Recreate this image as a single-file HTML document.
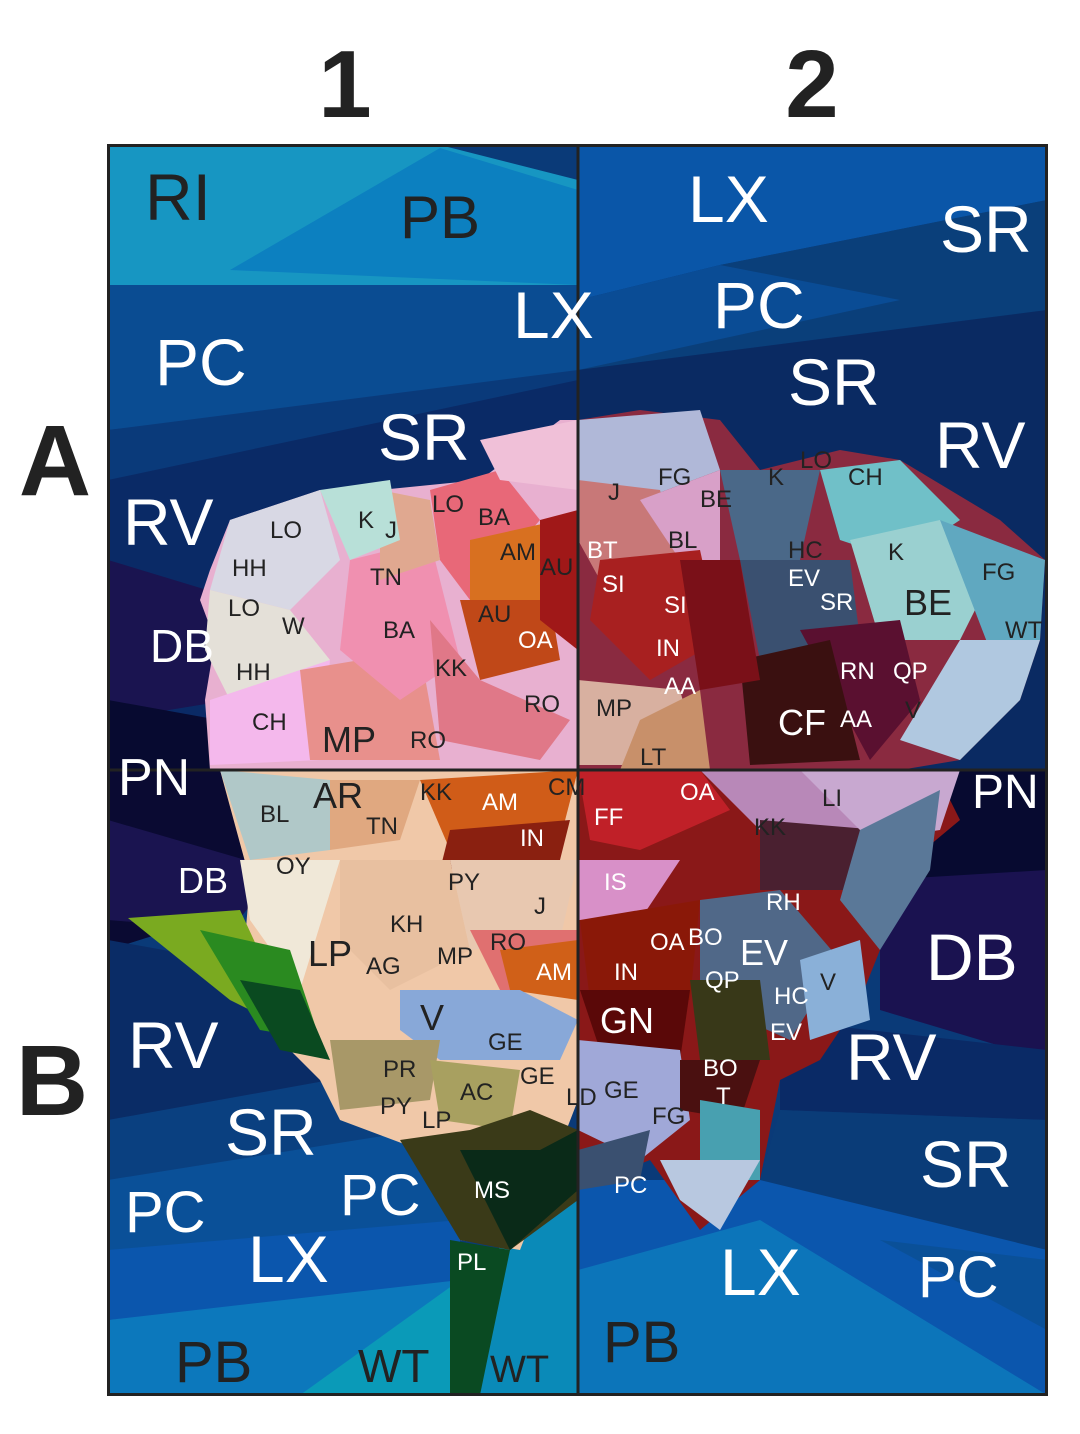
<!DOCTYPE html>
<html><head><meta charset="utf-8"><style>
html,body{margin:0;padding:0;background:#fff}
svg{display:block}
text{font-family:"Liberation Sans",sans-serif}
.b{fill:#fff}.d{fill:#222}
</style></head><body>
<svg width="1080" height="1434" viewBox="0 0 1080 1434" xmlns="http://www.w3.org/2000/svg">
<rect width="1080" height="1434" fill="#fff"/>
<text x="345" y="117" font-size="96" font-weight="bold" text-anchor="middle" class="d">1</text>
<text x="812" y="117" font-size="96" font-weight="bold" text-anchor="middle" class="d">2</text>
<text x="55" y="495" font-size="100" font-weight="bold" text-anchor="middle" class="d">A</text>
<text x="52" y="1115" font-size="100" font-weight="bold" text-anchor="middle" class="d">B</text>
<g>
<!-- background -->
<rect x="108" y="145" width="940" height="1250" fill="#0a3a78"/>
<polygon points="108,145 440,145 578,180 578,285 108,285" fill="#1796c2"/>
<polygon points="230,270 440,148 578,190 578,285" fill="#0c80c0"/>
<polygon points="108,285 578,285 578,380 108,430" fill="#0a4c92"/>
<polygon points="108,430 578,370 578,480 108,480" fill="#0a3a7a"/>
<polygon points="108,480 578,380 578,770 108,770" fill="#0a2a66"/>
<polygon points="108,560 240,600 230,700 108,720" fill="#1a1450"/>
<polygon points="108,700 330,740 330,770 108,770" fill="#070a30"/>
<polygon points="578,145 1047,145 1047,200 720,265 578,300" fill="#0a56a8"/>
<polygon points="720,265 1047,200 1047,310 578,370" fill="#0a3f7a"/>
<polygon points="578,300 720,265 900,300 578,370" fill="#0a4c95"/>
<polygon points="578,370 1047,310 1047,770 578,770" fill="#0a2a62"/>
<polygon points="108,770 260,770 330,880 108,950" fill="#0a0a32"/>
<polygon points="108,820 280,870 230,930 108,920" fill="#1a1450"/>
<polygon points="108,940 330,980 330,1100 108,1120" fill="#0a2c66"/>
<polygon points="108,1120 330,1080 420,1130 108,1190" fill="#0a4080"/>
<polygon points="108,1180 420,1130 460,1250 108,1250" fill="#0a5098"/>
<polygon points="108,1250 460,1220 460,1290 108,1320" fill="#0b56ad"/>
<polygon points="108,1320 460,1280 460,1395 108,1395" fill="#0c78bc"/>
<polygon points="300,1395 460,1280 450,1395" fill="#0a9ab8"/>
<polygon points="500,1240 578,1200 578,1395 480,1395" fill="#0a8ab8"/>
<polygon points="850,770 1047,770 1047,880 900,880" fill="#070a30"/>
<polygon points="880,880 1047,870 1047,1060 880,1010" fill="#1a1250"/>
<polygon points="780,1020 1047,1050 1047,1120 780,1110" fill="#0a2a66"/>
<polygon points="780,1110 1047,1120 1047,1260 760,1180" fill="#0a3c78"/>
<polygon points="578,1180 760,1180 1047,1250 1047,1395 578,1395" fill="#0b56ad"/>
<polygon points="578,1270 760,1220 1047,1395 578,1395" fill="#0c75ba"/>
<polygon points="880,1240 1047,1260 1047,1330" fill="#0a5098"/>

<!-- flower top-left -->
<polygon points="230,520 320,490 380,490 480,480 560,420 578,420 578,770 210,770 205,700 215,640 200,600 210,570" fill="#e8b0d0"/>
<polygon points="230,520 320,490 340,560 290,610 210,590" fill="#d8d8e4"/>
<polygon points="210,590 290,610 330,660 230,700 205,650" fill="#e4e0d8"/>
<polygon points="210,700 330,660 320,760 210,765" fill="#f4b8ec"/>
<polygon points="300,670 420,650 440,760 310,760" fill="#e8908c"/>
<polygon points="350,560 430,540 460,660 400,700 340,650" fill="#f090b0"/>
<polygon points="430,490 500,470 540,520 470,600 440,560" fill="#e86878"/>
<polygon points="470,540 560,520 540,600 470,610" fill="#d87020"/>
<polygon points="460,600 550,600 560,660 480,680" fill="#c04818"/>
<polygon points="430,620 480,680 570,720 540,760 440,740" fill="#e07888"/>
<polygon points="380,490 430,500 440,560 380,580" fill="#e0a890"/>
<polygon points="320,490 390,480 400,540 350,560" fill="#b8e0d8"/>
<polygon points="480,440 578,420 578,490 500,480" fill="#f0c0d8"/>
<polygon points="540,520 578,510 578,650 540,620" fill="#a01818"/>
<!-- top-right flower -->
<polygon points="578,420 640,410 720,420 760,470 840,450 900,460 1000,520 1045,560 1040,640 1020,700 960,760 900,770 578,770" fill="#8a2a40"/>
<polygon points="578,420 700,410 720,470 640,500 578,480" fill="#b0b8d8"/>
<polygon points="578,480 660,490 680,560 600,580 578,540" fill="#c87878"/>
<polygon points="640,500 720,470 720,560 680,560" fill="#d8a0c8"/>
<polygon points="600,560 700,550 720,640 650,680 590,620" fill="#a82020"/>
<polygon points="720,470 820,470 800,560 740,560" fill="#4a6888"/>
<polygon points="740,560 850,560 860,640 760,660" fill="#3a5070"/>
<polygon points="820,470 900,460 960,520 900,560 840,540" fill="#70c0c8"/>
<polygon points="850,540 940,520 1000,560 960,640 880,640" fill="#9ad0d0"/>
<polygon points="940,520 1045,560 1040,640 990,650" fill="#60a8c0"/>
<polygon points="960,640 1040,640 1020,700 960,760 900,740" fill="#b0c8e0"/>
<polygon points="800,630 900,620 920,700 870,760" fill="#5a1030"/>
<polygon points="740,660 830,640 860,760 750,765" fill="#3a1010"/>
<polygon points="578,680 680,690 700,765 578,765" fill="#d8b0a0"/>
<polygon points="640,720 700,690 710,770 620,770" fill="#c8906a"/>
<polygon points="680,560 740,560 760,680 700,690" fill="#7a1018"/>

<!-- bottom-left flower -->
<polygon points="220,770 578,770 578,1100 520,1250 460,1240 420,1150 340,1120 320,1080 240,1000 250,880" fill="#f0c8a8"/>
<polygon points="220,770 330,780 330,850 250,860" fill="#b0c8c8"/>
<polygon points="330,780 420,780 400,840 330,850" fill="#e0a880"/>
<polygon points="420,780 578,770 560,840 450,850" fill="#d05c18"/>
<polygon points="450,830 570,820 560,860 440,870" fill="#8a2010"/>
<polygon points="240,860 340,860 300,990 250,920" fill="#f0e8d8"/>
<polygon points="340,860 450,860 470,950 390,990 340,940" fill="#e8c0a0"/>
<polygon points="450,860 578,860 560,940 470,950" fill="#e8c8b0"/>
<polygon points="470,930 578,930 578,990 500,990" fill="#e07070"/>
<polygon points="500,950 578,940 578,1000 510,990" fill="#d06018"/>
<polygon points="400,990 520,990 578,1020 560,1060 440,1060 400,1030" fill="#88a8d8"/>
<polygon points="330,1040 440,1040 430,1100 340,1110" fill="#a89868"/>
<polygon points="430,1060 520,1070 510,1130 440,1120" fill="#a8a060"/>
<polygon points="400,1140 470,1130 530,1110 578,1130 578,1200 510,1250 460,1240" fill="#3a3a18"/>
<polygon points="460,1150 540,1150 578,1130 578,1190 510,1250" fill="#0a2a18"/>
<polygon points="450,1240 510,1250 480,1395 450,1395" fill="#0a4a22"/>
<polygon points="128,918 240,910 300,1040 290,1030 230,1000" fill="#7aaa20"/>
<polygon points="200,930 290,950 320,1040 260,1030" fill="#2a8a20"/>
<polygon points="240,980 300,990 330,1060 280,1050" fill="#0a4a20"/>
<!-- bottom-right flower -->
<polygon points="578,770 700,770 860,770 940,780 960,820 900,870 880,950 860,1000 820,1060 780,1080 760,1180 700,1230 650,1160 600,1180 578,1170" fill="#8a1818"/>
<polygon points="578,770 700,770 730,810 640,850 590,840" fill="#c02028"/>
<polygon points="700,770 860,770 880,830 760,830" fill="#b888b8"/>
<polygon points="760,820 880,830 880,890 760,890" fill="#4a2030"/>
<polygon points="800,770 960,770 940,830 870,840" fill="#c8a8d0"/>
<polygon points="860,830 940,790 930,870 880,950 840,900" fill="#5a7898"/>
<polygon points="578,860 680,860 640,920 578,920" fill="#d890c8"/>
<polygon points="580,920 700,900 690,1000 590,1000" fill="#8a1808"/>
<polygon points="700,900 780,890 840,960 790,1040 700,1000" fill="#506888"/>
<polygon points="580,990 690,990 680,1060 600,1050" fill="#5a0808"/>
<polygon points="690,980 760,980 770,1060 700,1060" fill="#383818"/>
<polygon points="800,960 860,940 870,1020 810,1040" fill="#8ab0d8"/>
<polygon points="578,1040 680,1050 690,1120 640,1160 578,1130" fill="#a0a8d8"/>
<polygon points="680,1060 760,1060 740,1120 680,1110" fill="#4a1010"/>
<polygon points="700,1100 760,1110 760,1180 700,1180" fill="#48a0b0"/>
<polygon points="660,1160 760,1160 720,1230 680,1200" fill="#b8c8e0"/>
<polygon points="578,1150 650,1130 640,1180 578,1190" fill="#3a5070"/>

<!-- grid lines -->
<rect x="108.5" y="145.5" width="938" height="1249" fill="none" stroke="#222" stroke-width="3"/>
<line x1="578" y1="145" x2="578" y2="1395" stroke="#222" stroke-width="3"/>
<line x1="108" y1="770" x2="1047" y2="770" stroke="#222" stroke-width="3"/>
</g>
<!-- large labels -->
<g font-size="66">
<text x="145" y="220" class="d">RI</text>
<text x="400" y="238" class="d" font-size="60">PB</text>
<text x="513" y="338" class="b">LX</text>
<text x="155" y="385" class="b">PC</text>
<text x="378" y="460" class="b">SR</text>
<text x="123" y="545" class="b">RV</text>
<text x="150" y="662" class="b" font-size="46">DB</text>
<text x="118" y="795" class="b" font-size="52">PN</text>
<text x="688" y="222" class="b">LX</text>
<text x="940" y="252" class="b">SR</text>
<text x="713" y="328" class="b">PC</text>
<text x="788" y="405" class="b">SR</text>
<text x="935" y="468" class="b">RV</text>
<text x="972" y="808" class="b" font-size="48">PN</text>
<text x="926" y="980" class="b">DB</text>
<text x="128" y="1068" class="b">RV</text>
<text x="225" y="1155" class="b">SR</text>
<text x="125" y="1232" class="b" font-size="58">PC</text>
<text x="340" y="1215" class="b" font-size="58">PC</text>
<text x="248" y="1282" class="b">LX</text>
<text x="175" y="1382" class="d" font-size="58">PB</text>
<text x="358" y="1382" class="d" font-size="46">WT</text>
<text x="490" y="1382" class="d" font-size="38">WT</text>
<text x="846" y="1080" class="b">RV</text>
<text x="920" y="1187" class="b">SR</text>
<text x="720" y="1295" class="b">LX</text>
<text x="918" y="1297" class="b" font-size="58">PC</text>
<text x="603" y="1362" class="d" font-size="58">PB</text>
</g>
<g font-size="36" class="d">
<text x="322" y="752">MP</text><text x="313" y="808">AR</text><text x="178" y="893" class="b">DB</text>
<text x="778" y="735" class="b">CF</text><text x="904" y="615">BE</text><text x="308" y="966">LP</text>
<text x="420" y="1030">V</text><text x="600" y="1033" class="b">GN</text><text x="740" y="965" class="b">EV</text>
</g>
<g font-size="24" class="d">
<text x="270" y="538">LO</text><text x="232" y="576">HH</text><text x="228" y="616">LO</text><text x="282" y="634">W</text>
<text x="236" y="680">HH</text><text x="252" y="730">CH</text><text x="383" y="638">BA</text><text x="435" y="676">KK</text>
<text x="478" y="525">BA</text><text x="500" y="560">AM</text><text x="540" y="575">AU</text><text x="478" y="622">AU</text>
<text x="518" y="648" class="b">OA</text><text x="370" y="585">TN</text><text x="358" y="528">K</text><text x="385" y="538">J</text>
<text x="432" y="512">LO</text><text x="524" y="712">RO</text><text x="410" y="748">RO</text>
<text x="608" y="500">J</text><text x="658" y="485">FG</text><text x="700" y="507">BE</text><text x="668" y="548">BL</text>
<text x="587" y="558" class="b">BT</text><text x="602" y="592" class="b">SI</text><text x="664" y="613" class="b">SI</text>
<text x="656" y="656" class="b">IN</text><text x="664" y="694" class="b">AA</text><text x="840" y="679" class="b">RN</text>
<text x="840" y="727" class="b">AA</text><text x="893" y="679" class="b">QP</text><text x="905" y="718">V</text>
<text x="768" y="485">K</text><text x="800" y="468">LO</text><text x="848" y="485">CH</text><text x="788" y="558">HC</text>
<text x="888" y="560">K</text><text x="982" y="580">FG</text><text x="1005" y="638">WT</text><text x="820" y="610" class="b">SR</text>
<text x="788" y="586" class="b">EV</text><text x="596" y="716">MP</text><text x="640" y="765">LT</text>
<text x="260" y="822">BL</text><text x="366" y="834">TN</text><text x="420" y="800">KK</text><text x="482" y="810" class="b">AM</text>
<text x="520" y="846" class="b">IN</text><text x="548" y="795">CM</text><text x="276" y="874">OY</text><text x="448" y="890">PY</text>
<text x="534" y="914">J</text><text x="390" y="932">KH</text><text x="366" y="974">AG</text><text x="437" y="964">MP</text>
<text x="490" y="950">RO</text><text x="536" y="980" class="b">AM</text><text x="614" y="980" class="b">IN</text>
<text x="594" y="825" class="b">FF</text><text x="680" y="800" class="b">OA</text><text x="822" y="806">LI</text>
<text x="754" y="835">KK</text><text x="766" y="910" class="b">RH</text><text x="604" y="890" class="b">IS</text>
<text x="650" y="950" class="b">OA</text><text x="688" y="945" class="b">BO</text><text x="705" y="988" class="b">QP</text>
<text x="774" y="1004" class="b">HC</text><text x="820" y="990">V</text><text x="770" y="1040" class="b">EV</text>
<text x="488" y="1050">GE</text><text x="520" y="1084">GE</text><text x="383" y="1077">PR</text>
<text x="380" y="1114">PY</text><text x="422" y="1128">LP</text><text x="460" y="1100">AC</text>
<text x="474" y="1198" class="b">MS</text><text x="566" y="1105">LD</text><text x="604" y="1098">GE</text>
<text x="652" y="1124">FG</text><text x="703" y="1076" class="b">BO</text><text x="716" y="1104" class="b">T</text>
<text x="614" y="1193" class="b">PC</text><text x="457" y="1270" class="b">PL</text>
</g>
</svg>
</body></html>
